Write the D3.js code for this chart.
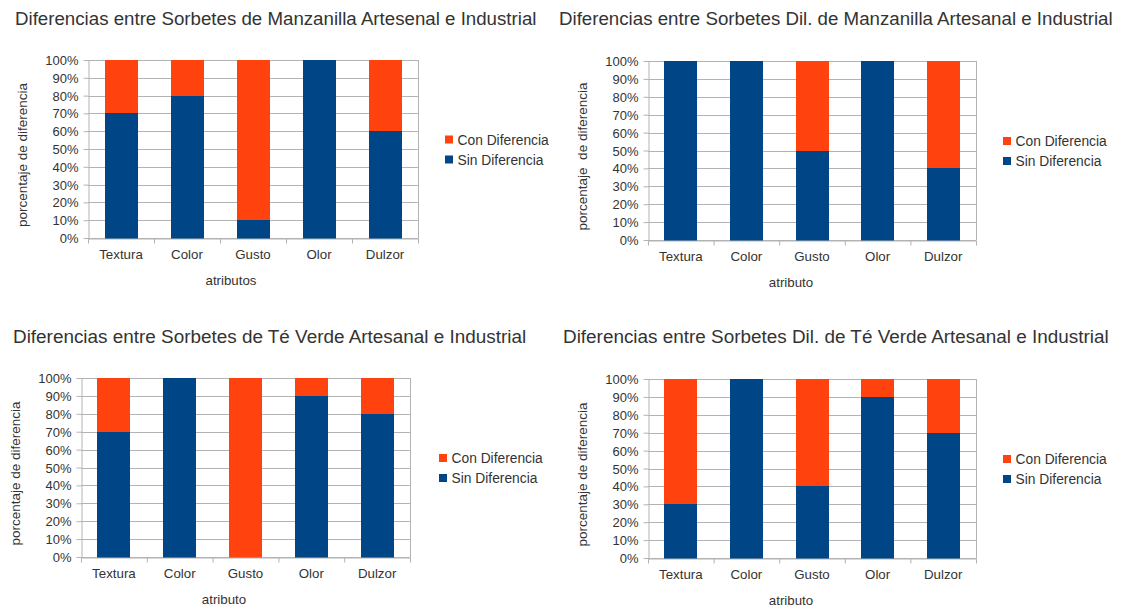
<!DOCTYPE html>
<html>
<head>
<meta charset="utf-8">
<script src="https://cdn.jsdelivr.net/npm/d3@7"></script>
<style>
  html, body { margin: 0; padding: 0; background: #ffffff; }
  svg { display: block; }
  text { font-family: "Liberation Sans", Arial, sans-serif; fill: #333333; }
</style>
</head>
<body>
<svg id="chart" width="1123" height="608"></svg>
<script>
// ---------- DATA ----------
const categories = ["Textura", "Color", "Gusto", "Olor", "Dulzor"];
const seriesNames = ["Sin Diferencia", "Con Diferencia"];
const legendOrder = ["Con Diferencia", "Sin Diferencia"];
const yTickValues = [0, 10, 20, 30, 40, 50, 60, 70, 80, 90, 100];

const sinManzanilla = [70, 80, 10, 100, 60];
const conManzanilla = [30, 20, 90, 0, 40];
const sinManzanillaDil = [100, 100, 50, 100, 40];
const conManzanillaDil = [0, 0, 50, 0, 60];
const sinTeVerde = [70, 100, 0, 90, 80];
const conTeVerde = [30, 0, 100, 10, 20];
const sinTeVerdeDil = [30, 100, 40, 90, 70];
const conTeVerdeDil = [70, 0, 60, 10, 30];

const titles = [
  "Diferencias entre Sorbetes de Manzanilla Artesenal e Industrial",
  "Diferencias entre Sorbetes Dil. de Manzanilla Artesanal e Industrial",
  "Diferencias entre Sorbetes de Té Verde Artesanal e Industrial",
  "Diferencias entre Sorbetes Dil. de Té Verde Artesanal e Industrial"
];
const xTitles = ["atributos", "atributo", "atributo", "atributo"];
const yTitles = ["porcentaje de diferencia", "porcentaje  de diferencia", "porcentaje de diferencia", "porcentaje de diferencia"];

// ---------- STYLE / LAYOUT ----------
const colors = { "Sin Diferencia": "#004586", "Con Diferencia": "#ff420e" };
const gridColor = "#b3b3b3";

const panels = [
  { sin: sinManzanilla, con: conManzanilla, left: 88, right: 418, top: 60, bottom: 238, titleX: 15, titleY: 25, titleSize: 18.7, xTitleX: 231, yTitleX: 27, legendGap: 27 },
  { sin: sinManzanillaDil, con: conManzanillaDil, left: 648, right: 976, top: 61, bottom: 240, titleX: 559, titleY: 25, titleSize: 18.7, xTitleX: 791, yTitleX: 587, legendGap: 27 },
  { sin: sinTeVerde, con: conTeVerde, left: 81, right: 410, top: 378, bottom: 557, titleX: 13, titleY: 343, titleSize: 18.9, xTitleX: 224, yTitleX: 20, legendGap: 29 },
  { sin: sinTeVerdeDil, con: conTeVerdeDil, left: 648, right: 976, top: 379, bottom: 558, titleX: 563, titleY: 343, titleSize: 18.9, xTitleX: 791, yTitleX: 587, legendGap: 27 }
];

const svg = d3.select("#chart");

panels.forEach((p, i) => {
  const g = svg.append("g");
  const rows = categories.map((c, k) => ({ cat: c, "Sin Diferencia": p.sin[k], "Con Diferencia": p.con[k] }));
  const stacked = d3.stack().keys(seriesNames)(rows);

  const x = d3.scaleBand().domain(categories).range([p.left, p.right]).paddingInner(0.5).paddingOuter(0.25);
  const xEdge = d3.scaleLinear().domain([0, categories.length]).range([p.left, p.right]);
  const y = d3.scaleLinear().domain([0, 100]).range([p.bottom, p.top]);

  // title
  g.append("text").attr("x", p.titleX).attr("y", p.titleY)
    .style("font-size", p.titleSize + "px").text(titles[i]);

  // gridlines
  g.append("g").selectAll("line").data(yTickValues).join("line")
    .attr("x1", p.left).attr("x2", p.right)
    .attr("y1", d => Math.round(y(d)) + 0.5).attr("y2", d => Math.round(y(d)) + 0.5)
    .attr("stroke", gridColor).attr("stroke-width", 1);

  // right border
  g.append("line").attr("x1", Math.round(p.right) + 0.5).attr("x2", Math.round(p.right) + 0.5)
    .attr("y1", p.top).attr("y2", p.bottom)
    .attr("stroke", gridColor);

  // bars
  g.append("g").selectAll("g").data(stacked).join("g")
    .attr("fill", d => colors[d.key])
    .attr("shape-rendering", "crispEdges")
    .selectAll("rect").data(d => d).join("rect")
    .attr("x", d => Math.round(x(d.data.cat)))
    .attr("width", Math.round(x.bandwidth()))
    .attr("y", d => Math.round(y(d[1])))
    .attr("height", d => Math.round(y(d[0])) - Math.round(y(d[1])) + (d[0] === 0 ? 1 : 0));

  // y axis
  const yAxis = g.append("g").attr("transform", `translate(${Math.round(p.left) + 0.5},0)`)
    .call(d3.axisLeft(y).tickValues(yTickValues).tickSize(5).tickSizeOuter(0).tickPadding(5).tickFormat(d => d + "%"));
  yAxis.select(".domain").attr("stroke", gridColor);
  yAxis.selectAll(".tick line").attr("stroke", gridColor);
  yAxis.selectAll(".tick text").style("font-size", "13px").style("font-family", "Liberation Sans, Arial, sans-serif").attr("fill", "#333333").attr("dy", "0.35em");

  // x axis boundary ticks
  const xTicks = g.append("g").attr("transform", `translate(0,${Math.round(p.bottom) + 0.5})`)
    .call(d3.axisBottom(xEdge).tickValues(d3.range(categories.length + 1)).tickSize(5).tickSizeOuter(0).tickFormat(""));
  xTicks.select(".domain").attr("stroke", gridColor);
  xTicks.selectAll(".tick line").attr("stroke", gridColor);

  // x labels
  const xLab = g.append("g").attr("transform", `translate(0,${p.bottom})`)
    .call(d3.axisBottom(x).tickSize(0).tickPadding(12));
  xLab.select(".domain").remove();
  xLab.selectAll(".tick text").style("font-size", "13.3px").style("font-family", "Liberation Sans, Arial, sans-serif").attr("fill", "#333333");

  // x title
  g.append("text").attr("x", p.xTitleX).attr("y", p.bottom + 47)
    .attr("text-anchor", "middle").style("font-size", "13.3px").text(xTitles[i]);

  // y title
  const yMid = (p.top + p.bottom) / 2 + 6;
  g.append("text").attr("transform", `translate(${p.yTitleX},${yMid}) rotate(-90)`)
    .attr("text-anchor", "middle").style("font-size", "13.5px").style("white-space", "pre")
    .text(yTitles[i]);

  // legend
  const mid = (p.top + p.bottom) / 2;
  const lg = g.append("g").attr("transform", `translate(${p.right + p.legendGap},${mid - 13.5})`);
  const items = lg.selectAll("g").data(legendOrder).join("g")
    .attr("transform", (d, k) => `translate(0,${k * 20})`);
  items.append("rect").attr("width", 8).attr("height", 8).attr("fill", d => colors[d]);
  items.append("text").attr("x", 12.5).attr("y", 9).style("font-size", "13.8px").text(d => d);
});
</script>
</body>
</html>
